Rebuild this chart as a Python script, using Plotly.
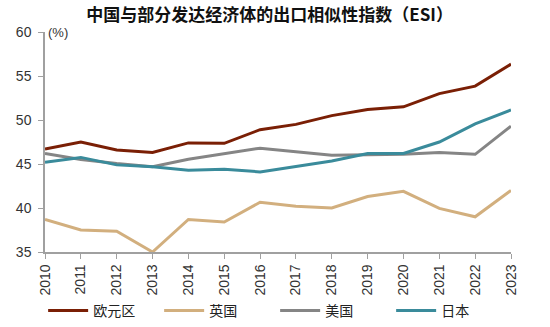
import plotly.graph_objects as go

years = list(range(2010, 2024))
euro = [46.7, 47.5, 46.6, 46.3, 47.4, 47.35, 48.9, 49.5, 50.5, 51.2, 51.5, 53.0, 53.85, 56.35]
uk = [38.7, 37.5, 37.35, 35.0, 38.7, 38.4, 40.65, 40.2, 40.0, 41.3, 41.9, 39.95, 39.0, 42.0]
us = [46.2, 45.5, 45.05, 44.7, 45.55, 46.2, 46.8, 46.4, 46.0, 46.05, 46.1, 46.3, 46.1, 49.3]
japan = [45.2, 45.75, 44.9, 44.7, 44.3, 44.4, 44.1, 44.7, 45.35, 46.2, 46.2, 47.5, 49.55, 51.15]

names = ["欧元区", "英国", "美国", "日本"]
colors = ["#7A1F05", "#D2AF7E", "#858585", "#3A8B9B"]
series = [euro, uk, us, japan]

font_family = "Liberation Sans, Arial, Noto Sans CJK SC, sans-serif"

fig = go.Figure()
for name, vals, c in zip(names, series, colors):
    fig.add_trace(go.Scatter(x=years, y=vals, mode="lines", name=name,
                             line=dict(color=c, width=3)))

fig.update_layout(
    width=550, height=327,
    margin=dict(l=45, r=39, t=32, b=75, autoexpand=False),
    paper_bgcolor="white", plot_bgcolor="white",
    font=dict(family=font_family, size=13, color="#333333"),
    title=dict(text="<b>中国与部分发达经济体的出口相似性指数（ESI）</b>",
               x=0.482, xref="paper", yref="container", y=1 - 15 / 327, yanchor="middle",
               font=dict(size=17, color="#111111", family="Noto Sans CJK SC, sans-serif")),
    showlegend=True,
    legend=dict(orientation="h", x=-0.004, y=-0.268, xanchor="left", yanchor="middle",
                font=dict(size=14, family="Noto Sans CJK SC, sans-serif", color="#222222"),
                entrywidth=61, entrywidthmode="pixels", itemwidth=40,
                bgcolor="rgba(0,0,0,0)", tracegroupgap=0),
)
fig.update_xaxes(range=[2010, 2023], tickmode="array", tickvals=years,
                 ticktext=[str(y) for y in years], tickangle=-90,
                 showline=True, linecolor="#A0A0A0", linewidth=1.5,
                 ticks="outside", ticklen=5, tickcolor="#A0A0A0",
                 showgrid=False, zeroline=False, automargin=False,
                 tickfont=dict(size=14, color="#333333"))
fig.update_yaxes(range=[35, 60], tickvals=[35, 40, 45, 50, 55, 60],
                 showline=True, linecolor="#A0A0A0", linewidth=1.5,
                 ticks="outside", ticklen=5, tickcolor="#A0A0A0",
                 showgrid=False, zeroline=False, automargin=False,
                 ticklabelstandoff=4,
                 tickfont=dict(size=14, color="#333333"))
fig.add_annotation(text="(%)", xref="paper", yref="paper", x=0.0, y=1.0,
                   xanchor="left", yanchor="middle", showarrow=False, xshift=1,
                   font=dict(size=13, color="#333333"))

fig.write_html("out.html")
